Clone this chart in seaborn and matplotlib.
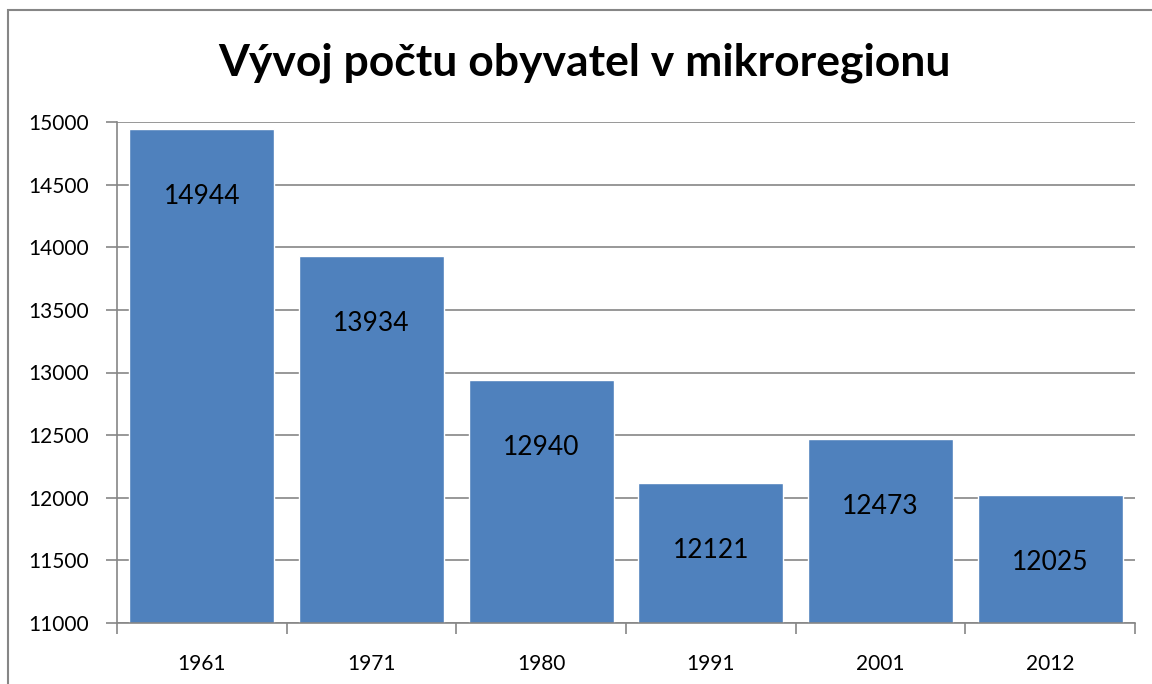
import matplotlib.pyplot as plt
import seaborn as sns
import pandas as pd
from matplotlib.patches import Rectangle

years = ["1961", "1971", "1980", "1991", "2001", "2012"]
population = [14944, 13934, 12940, 12121, 12473, 12025]

sns.set_style("white")
plt.rcParams['font.family'] = ['Lato', 'DejaVu Sans']
plt.rcParams['text.color'] = 'black'

data = pd.DataFrame({"rok": years, "obyvatele": population})

fig = plt.figure(figsize=(11.52, 6.84), dpi=100)
ax = fig.add_axes([117 / 1152, 1 - 623 / 684, (1135 - 117) / 1152, (623 - 122) / 684])

sns.barplot(x="rok", y="obyvatele", data=data, color="#4F81BD", saturation=1,
            width=0.855, ax=ax)

ax.set_ylim(11000, 15000)
ax.set_xlim(-0.5, len(years) - 0.5)
ax.set_yticks(range(11000, 15001, 500))
ax.yaxis.grid(True, color="#868686", linewidth=1.2)
ax.set_axisbelow(True)
ax.set_xlabel("")
ax.set_ylabel("")

for side in ["top", "right"]:
    ax.spines[side].set_visible(False)
ax.spines["left"].set_color("#868686")
ax.spines["bottom"].set_color("#868686")
ax.spines["left"].set_linewidth(1.2)
ax.spines["bottom"].set_linewidth(1.2)

ax.tick_params(axis="y", left=True, length=8, width=1.2, color="#868686",
               labelsize=15, pad=12, labelcolor="black")
ax.tick_params(axis="x", length=0, labelsize=15, pad=22, labelcolor="black")
# x ticks at category boundaries (excel style)
ax.set_xticks([i - 0.5 for i in range(len(years) + 1)], minor=True)
ax.tick_params(axis="x", which="minor", bottom=True, length=8, width=1.2, color="#868686")

for i, v in enumerate(population):
    ax.text(i, v - 540, str(v), ha="center", va="center", fontsize=19, color="black")

fig.text(584 / 1152, 1 - 63 / 684, "Vývoj počtu obyvatel v mikroregionu", ha="center",
         va="center", fontsize=32, fontweight="bold", color="black")

# outer chart frame
fig.patches.append(Rectangle((7.5 / 1152, -0.05), 1.1, 1 - 9.5 / 684 + 0.05,
                             transform=fig.transFigure, fill=False,
                             edgecolor="#868686", linewidth=1.5))

fig.savefig("out.png", dpi=100)
